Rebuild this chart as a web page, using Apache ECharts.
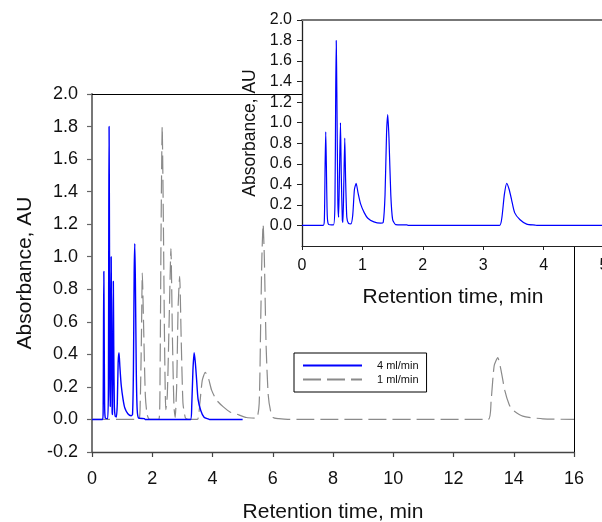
<!DOCTYPE html>
<html>
<head>
<meta charset="utf-8">
<script src="https://cdn.jsdelivr.net/npm/echarts@6/dist/echarts.min.js"></script>
<style>
  html, body { margin: 0; padding: 0; background: #fff; }
  #chart { width: 602px; height: 522px; }
</style>
</head>
<body>
<div id="chart"></div>
<script>
// Chromatogram at 4 ml/min: retention time (min) and absorbance (AU)
const fastTime = [0, 0.35, 0.37, 0.383, 0.393, 0.403, 0.418, 0.44, 0.52, 0.545, 0.558, 0.567, 0.577, 0.593, 0.606,
  0.62, 0.637, 0.65, 0.668, 0.678, 0.692, 0.708, 0.722, 0.742, 0.77, 0.81, 0.84, 0.868, 0.897, 0.927, 0.97,
  1.03, 1.09, 1.19, 1.30, 1.345, 1.375, 1.40, 1.42, 1.44, 1.47, 1.5, 1.55, 1.74, 1.76,
  3.27, 3.31, 3.35, 3.39, 3.43, 3.47, 3.52, 3.61, 3.72, 3.86, 3.9, 5.0];
const fastAbs = [0, 0, 0.05, 0.6, 0.91, 0.6, 0.1, 0.01, 0.005, 0.2, 1.3, 1.80, 1.3, 0.25, 0.08,
  0.5, 1.00, 0.5, 0.05, 0.03, 0.4, 0.85, 0.45, 0.08, 0.02, 0.015, 0.1, 0.35, 0.41, 0.32, 0.21,
  0.125, 0.07, 0.035, 0.023, 0.03, 0.3, 0.9, 1.08, 0.85, 0.3, 0.06, 0.008, 0.005, 0,
  0, 0.08, 0.3, 0.41, 0.35, 0.25, 0.125, 0.055, 0.013, 0.003, 0, 0];

// Chromatogram at 1 ml/min
const slowTime = [0, 1.55, 1.6, 1.64, 1.67, 1.71, 1.77, 1.83, 1.92, 2.22, 2.26, 2.29, 2.33, 2.37, 2.41, 2.45,
  2.5, 2.56, 2.62, 2.67, 2.72, 2.76, 2.81, 2.86, 2.91, 2.96, 3.02, 3.1, 3.2, 3.5, 3.58, 3.66, 3.76, 3.87,
  3.97, 4.13, 4.36, 4.58, 4.8, 5.13, 5.46, 5.55, 5.6, 5.64, 5.68, 5.72, 5.78, 5.85, 5.93, 6.01, 6.2, 6.5,
  13.15, 13.25, 13.35, 13.47, 13.58, 13.7, 13.85, 13.97, 14.3, 14.97, 16.0];
const slowAbs = [0, 0, 0.1, 0.5, 0.90, 0.6, 0.15, 0.03, 0, 0, 0.3, 1.1, 1.80, 1.2, 0.45, 0.06,
  0.15, 0.6, 1.05, 0.5, 0.08, 0.012, 0.2, 0.7, 0.88, 0.5, 0.1, 0.01, 0, 0, 0.1, 0.24, 0.29, 0.25,
  0.18, 0.12, 0.077, 0.046, 0.033, 0.012, 0.008, 0.1, 0.6, 1.0, 1.20, 1.0, 0.45, 0.15, 0.05, 0.012, 0.005, 0,
  0, 0.12, 0.33, 0.38, 0.3, 0.18, 0.09, 0.057, 0.02, 0.004, 0];

const seriesNames = ['4 ml/min', '1 ml/min'];
const insetYTicks = [0.0, 0.2, 0.4, 0.6, 0.8, 1.0, 1.2, 1.4, 1.6, 1.8, 2.0];

const pairs = (xs, ys) => xs.map((x, i) => [x, ys[i]]);
const fmt1 = v => (Math.abs(v) < 1e-9 ? 0 : v).toFixed(1);
const FONT = 'Liberation Sans, Arial, Helvetica, sans-serif';

const chart = echarts.init(document.getElementById('chart'), null, { renderer: 'canvas' });

chart.setOption({
  animation: false,
  backgroundColor: '#fff',
  textStyle: { fontFamily: FONT },
  grid: [
    { left: 92, right: 28, top: 94, bottom: 70, containLabel: false, outerBoundsMode: 'none' },
    { left: 302, right: -2, top: 20, bottom: 276, containLabel: false, outerBoundsMode: 'none',
      show: true, backgroundColor: '#fff', borderWidth: 0, z: 5 }
  ],
  legend: {
    data: seriesNames,
    orient: 'vertical',
    left: 294, top: 353,
    padding: [7, 8, 7, 8],
    itemWidth: 59, itemHeight: 12, itemGap: 3,
    backgroundColor: '#fff',
    borderColor: '#000', borderWidth: 1,
    // line samples only, no marker in the middle
    itemStyle: { color: 'transparent', borderColor: 'transparent', borderWidth: 0, opacity: 0 },
    textStyle: { fontSize: 11, color: '#111', fontFamily: FONT, padding: [0, 0, 0, 10] },
    z: 8
  },
  xAxis: [
    { type: 'value', gridIndex: 0, min: 0, max: 16, interval: 2,
      name: 'Retention time, min', nameLocation: 'middle', nameGap: 50,
      nameTextStyle: { fontSize: 21, color: '#111', fontFamily: FONT },
      axisLine: { show: true, onZero: false, lineStyle: { color: '#444', width: 1.3 } },
      axisTick: { show: true, inside: false, length: 5, lineStyle: { color: '#444', width: 1.2 } },
      axisLabel: { fontSize: 18, color: '#111', margin: 18 },
      splitLine: { show: false } },
    { type: 'value', gridIndex: 0, position: 'top', min: 0, max: 16,
      axisLine: { show: true, onZero: false, lineStyle: { color: '#000', width: 1 } },
      axisTick: { show: false }, axisLabel: { show: false }, splitLine: { show: false } },
    { type: 'value', gridIndex: 1, min: 0, max: 5, interval: 1, z: 6,
      name: 'Retention time, min', nameLocation: 'middle', nameGap: 41,
      nameTextStyle: { fontSize: 21, color: '#111', fontFamily: FONT },
      axisLine: { show: true, onZero: false, lineStyle: { color: '#222', width: 1.2 } },
      axisTick: { show: true, length: 4, lineStyle: { color: '#222', width: 1 } },
      axisLabel: { fontSize: 16, color: '#111', margin: 12 },
      splitLine: { show: false } },
    { type: 'value', gridIndex: 1, position: 'top', min: 0, max: 5, z: 6,
      axisLine: { show: true, onZero: false, lineStyle: { color: '#777', width: 2 } },
      axisTick: { show: false }, axisLabel: { show: false }, splitLine: { show: false } }
  ],
  yAxis: [
    { type: 'value', gridIndex: 0, min: -0.2, max: 2.0, interval: 0.2,
      name: 'Absorbance, AU', nameLocation: 'middle', nameGap: 54,
      nameTextStyle: { fontSize: 21, color: '#111', fontFamily: FONT },
      axisLine: { show: true, onZero: false, lineStyle: { color: '#777', width: 2 } },
      axisTick: { show: true, length: 5, lineStyle: { color: '#666', width: 1.2 } },
      axisLabel: { fontSize: 18, color: '#111', margin: 14, formatter: fmt1 },
      splitLine: { show: false } },
    { type: 'value', gridIndex: 0, position: 'right', min: -0.2, max: 2.0,
      axisLine: { show: true, onZero: false, lineStyle: { color: '#000', width: 1 } },
      axisTick: { show: false }, axisLabel: { show: false }, splitLine: { show: false } },
    { type: 'value', gridIndex: 1, min: -0.2, max: 2.0, interval: 0.2, z: 6,
      name: 'Absorbance, AU', nameLocation: 'middle', nameGap: 37,
      nameTextStyle: { fontSize: 17.5, color: '#111', fontFamily: FONT },
      axisLine: { show: true, onZero: false, lineStyle: { color: '#222', width: 1.3 } },
      axisTick: { show: true, length: 5, customValues: insetYTicks, lineStyle: { color: '#222', width: 1 } },
      axisLabel: { fontSize: 16, color: '#111', margin: 10, customValues: insetYTicks, formatter: fmt1 },
      splitLine: { show: false } }
  ],
  series: [
    { name: seriesNames[1], type: 'line', xAxisIndex: 0, yAxisIndex: 0,
      data: pairs(slowTime, slowAbs), symbol: 'none', smooth: 0.2, z: 2,
      lineStyle: { color: '#8a8a8a', width: 1.2, type: [18, 6] }, itemStyle: { color: '#8a8a8a' } },
    { name: seriesNames[0], type: 'line', xAxisIndex: 0, yAxisIndex: 0,
      data: pairs(fastTime, fastAbs), symbol: 'none', smooth: 0.2, z: 3,
      lineStyle: { color: '#0000ff', width: 1.4 }, itemStyle: { color: '#0000ff' } },
    { name: seriesNames[0], type: 'line', xAxisIndex: 2, yAxisIndex: 2,
      data: pairs(fastTime, fastAbs), symbol: 'none', smooth: 0.2, z: 7,
      lineStyle: { color: '#0000ff', width: 1.2 }, itemStyle: { color: '#0000ff' } }
  ]
});
</script>
</body>
</html>
